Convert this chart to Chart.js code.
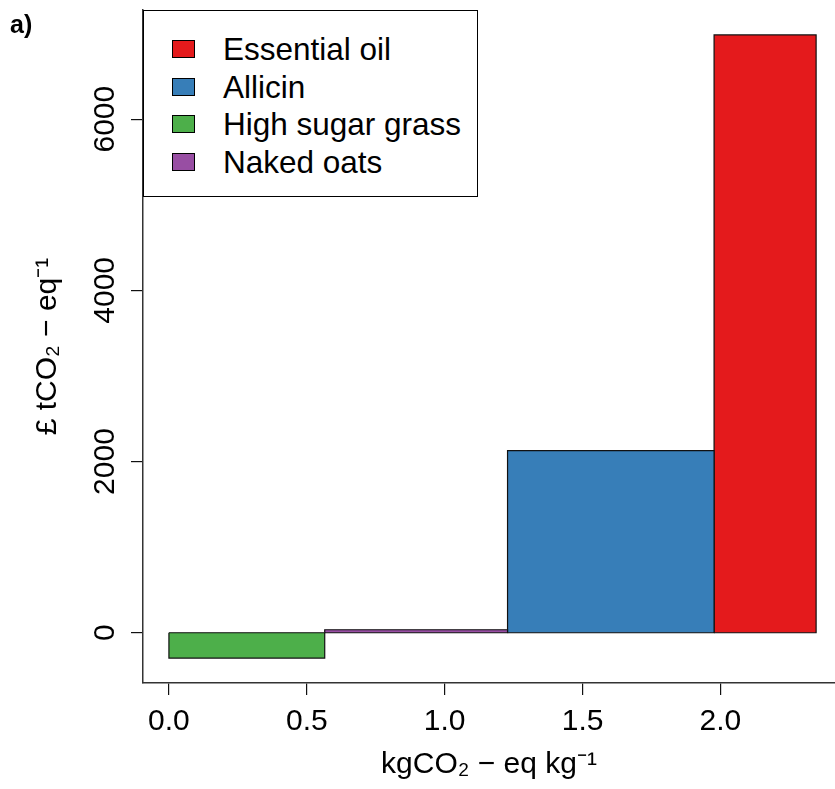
<!DOCTYPE html>
<html>
<head>
<meta charset="utf-8">
<script src="https://cdn.jsdelivr.net/npm/chart.js@4.4.1/dist/chart.umd.min.js"></script>
<style>
body { margin: 0; background: #fff; font-family: "Liberation Sans", Arial, sans-serif; }
#wrap { position: relative; width: 835px; height: 789px; overflow: hidden; }
#panel { position: absolute; left: 10px; top: 12px; font-weight: bold; font-size: 25px; line-height: 25px; }
#legend { position: absolute; left: 143px; top: 10px; width: 335px; height: 187px; border: 1px solid #000; box-sizing: border-box; background: #fff; }
.row { position: absolute; left: 0; width: 100%; height: 38px; line-height: 38px; font-size: 31.5px; white-space: nowrap; }
.sw { position: absolute; left: 28px; top: 10px; width: 21px; height: 16px; border: 1px solid #000; }
.lab { position: absolute; left: 79px; top: 0; }
</style>
</head>
<body>
<div id="wrap">
  <canvas id="chart" width="835" height="789"></canvas>
  <div id="panel">a)</div>
  <div id="legend"></div>
</div>
<script>
// options in order along the curve
const categories = ['High sugar grass', 'Naked oats', 'Allicin', 'Essential oil'];
const abatement = [0.565, 0.663, 0.749, 0.370];   // kgCO2-eq kg-1 (bar widths)
const costs = [-296, 35, 2128, 6984];             // £ tCO2-eq-1 (bar heights)
const colours = ['#4DAF4A', '#984EA3', '#377EB8', '#E41A1C'];
const legendOrder = ['Essential oil', 'Allicin', 'High sugar grass', 'Naked oats'];
const xTicks = [0, 0.5, 1, 1.5, 2];
const yTicks = [0, 2000, 4000, 6000];

// each option is a closed rectangle from its start to its end along the x axis
let start = 0;
const datasets = categories.map((name, i) => {
    const x0 = start;
    const x1 = start + abatement[i];
    start = x1;
    const h = costs[i];
    return {
        label: name,
        data: [{x: x0, y: 0}, {x: x0, y: h}, {x: x1, y: h}, {x: x1, y: 0}, {x: x0, y: 0}],
        showLine: true,
        fill: 'shape',
        backgroundColor: colours[i],
        borderColor: '#111',
        borderWidth: 1.2,
        pointRadius: 0,
        tension: 0
    };
});

const legendDiv = document.getElementById('legend');
legendOrder.forEach((name, k) => {
    const row = document.createElement('div');
    row.className = 'row';
    row.style.top = (19 + k * 37.6) + 'px';
    const sw = document.createElement('span');
    sw.className = 'sw';
    sw.style.background = colours[categories.indexOf(name)];
    const lab = document.createElement('span');
    lab.className = 'lab';
    lab.textContent = name;
    row.appendChild(sw);
    row.appendChild(lab);
    legendDiv.appendChild(row);
});

const font = { family: '"Liberation Sans", Arial, sans-serif', size: 30 };

new Chart(document.getElementById('chart'), {
    type: 'scatter',
    data: { datasets: datasets },
    options: {
        responsive: false,
        animation: false,
        layout: { padding: { top: 9, left: 0, right: 0, bottom: 0 } },
        plugins: { legend: { display: false }, tooltip: { enabled: false } },
        scales: {
            x: {
                type: 'linear',
                min: -0.094,
                max: 2.4155,
                afterFit: s => { s.height = 106; },
                afterBuildTicks: s => { s.ticks = xTicks.map(v => ({ value: v })); },
                border: { display: true, color: '#333', width: 1.5 },
                grid: { drawOnChartArea: false, drawTicks: true, tickLength: 12, color: '#111', lineWidth: 1.2 },
                ticks: { color: '#000', font: font, padding: 9, maxRotation: 0, callback: v => v.toFixed(1) },
                title: { display: true, text: 'kgCO₂ − eq kg⁻¹', color: '#000', font: font, padding: { top: 0, bottom: 6 } }
            },
            y: {
                type: 'linear',
                min: -587,
                max: 7275,
                afterFit: s => { s.width = 143; },
                afterBuildTicks: s => { s.ticks = yTicks.map(v => ({ value: v })); },
                border: { display: true, color: '#333', width: 1.5 },
                grid: { drawOnChartArea: false, drawTicks: true, tickLength: 12, color: '#111', lineWidth: 1.2 },
                ticks: { color: '#000', font: font, padding: -8, minRotation: 90, maxRotation: 90, crossAlign: 'center', callback: v => String(v) },
                title: { display: true, text: '£ tCO₂ − eq⁻¹', color: '#000', font: font, padding: { top: 30, bottom: 0 } }
            }
        }
    }
});
</script>
</body>
</html>
